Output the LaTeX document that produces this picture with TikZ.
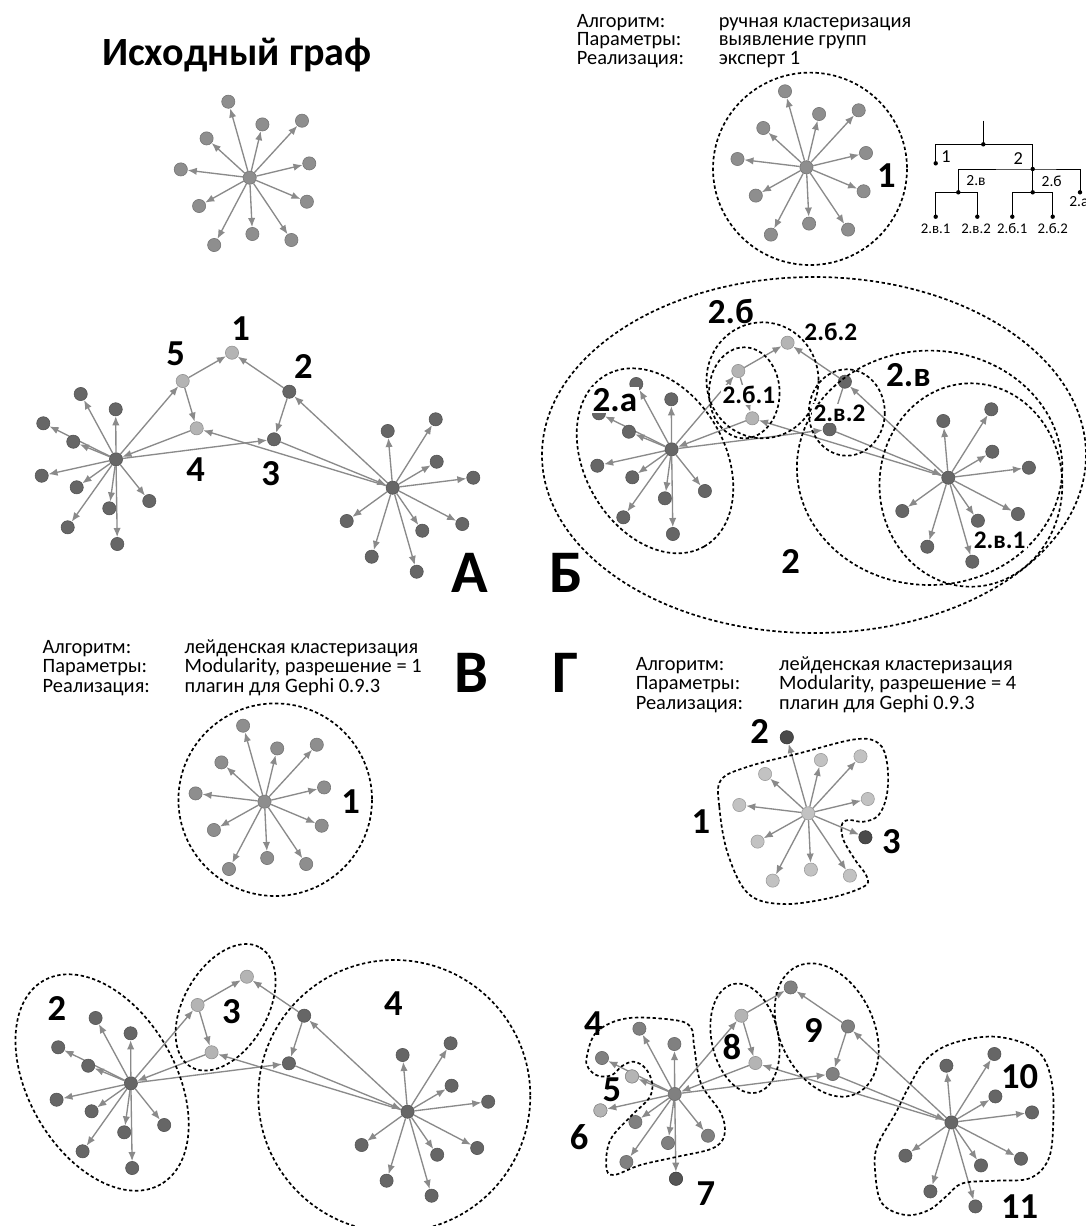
\documentclass[tikz,border=0pt]{standalone}
\usepackage{fontspec}
\setmainfont{Carlito}
\usetikzlibrary{arrows.meta}

\definecolor{edgegray}{HTML}{8A8A8A}
\definecolor{midstar}{HTML}{8E8E8E}
\definecolor{ltstar}{HTML}{C2C2C2}
\definecolor{dkstar}{HTML}{4A4A4A}
\definecolor{dkdot}{HTML}{666666}
\definecolor{mddot}{HTML}{808080}
\definecolor{ltdot}{HTML}{B4B4B4}
\definecolor{dkrdot}{HTML}{555555}

\tikzset{
  dot/.style={circle, inner sep=0pt, minimum size=0.33cm, fill=#1, draw=#1!80!black, line width=0.4pt},
  edge/.style={draw=edgegray, line width=0.95pt, -{Latex[length=6.5pt,width=5.2pt]}},
  hull/.style={draw=black, line width=1.2pt, dash pattern=on 2.4pt off 1.8pt},
  num/.style={font=\bfseries\fontsize{26}{26}\selectfont, inner sep=0pt},
  panel/.style={font=\bfseries\fontsize{43}{43}\selectfont, inner sep=0pt},
  sublbl/.style={font=\bfseries\fontsize{18}{18}\selectfont, inner sep=1pt},
  info/.style={font=\fontsize{14.5}{12.9}\selectfont, inner sep=0pt, anchor=base west},
  tdot/.style={circle, fill=black, inner sep=0pt, minimum size=0.11cm},
  tlbl/.style={font=\fontsize{#1}{#1}\selectfont, inner sep=0pt},
}

% star: prefix, x, y, colour
\newcommand{\stargraph}[4]{%
  \node[dot=#4] (#1c) at (#2,#3) {};
  \foreach \dx/\dy [count=\i] in {-21.4/-76, 12.7/-53.3, 52.3/-57, -43.1/-39.3,
      59.6/-14.3, -68.9/-8.3, -50.6/28.3, 57.2/24, -35.5/67.3, 2.7/56.3, 41.7/62.3}{
    \node[dot=#4] (#1\i) at ({#2+\dx},{#3+\dy}) {};
    \draw[edge] (#1c) -- (#1\i);
  }
}

% two hubs: prefix, x, y, left colour, colour of n1, colour of n2 and n3
\newcommand{\twohub}[6]{%
  \node[dot=#4] (#1a) at (#2,#3) {};
  \node[dot=dkdot] (#1b) at ({#2+276.7},{#3+28.4}) {};
  \node[dot=#5] (#1n1) at ({#2+116},{#3-106.6}) {};
  \node[dot=ltdot] (#1n5) at ({#2+66.7},{#3-78.3}) {};
  \node[dot=#6] (#1n2) at ({#2+173.3},{#3-67.6}) {};
  \node[dot=ltdot] (#1n4) at ({#2+80.7},{#3-31}) {};
  \node[dot=#6] (#1n3) at ({#2+158},{#3-20}) {};
  \foreach \dx/\dy [count=\i] in {-35.3/-65.3, -0.3/-50, -72.7/-36, -42.7/-17.6,
      -74.3/16.4, -39.3/28, 33.3/41.7, -6.7/49, -48.3/68, 1.3/84.7}{
    \node[dot=#4] (#1l\i) at ({#2+\dx},{#3+\dy}) {};
    \draw[edge] (#1a) -- (#1l\i);
  }
  \foreach \dx/\dy [count=\i] in {-5/-56.7, 43/-68.4, 44/-26, 80.6/-10,
      -46/33.3, 29.6/43, 69.6/36.3, -21/69, 24/84}{
    \node[dot=dkdot] (#1r\i) at ({#2+276.7+\dx},{#3+28.4+\dy}) {};
    \draw[edge] (#1b) -- (#1r\i);
  }
  \foreach \s/\t in {a/n5, n5/n1, n5/n4, n2/n1, n2/n3, b/n2, n4/a, a/n3, b/n4, n3/b}
    \draw[edge] (#1\s) -- (#1\t);
}

\begin{document}
\begin{tikzpicture}[x=0.025cm, y=-0.025cm]
  \path[fill=white, use as bounding box] (0,0) rectangle (1086,1226);

  % source graph
  \node[font=\bfseries\fontsize{28.5}{30}\selectfont, inner sep=0pt, anchor=base] (title) at (237,65) {Исходный граф};
  \stargraph{s}{249.7}{177.7}{midstar}

  % A
  \twohub{A}{116}{459.3}{dkdot}{ltdot}{dkdot}
  \node[num] (a1) at (240.7,328.3) {1};
  \node[num] (a5) at (175.7,353.3) {5};
  \node[num] (a2) at (303.3,366.7) {2};
  \node[num] (a4) at (195.7,470) {4};
  \node[num] (a3) at (270.7,474) {3};
  \node[panel] (pA) at (470,573) {А};

  % B: manual
  \node[info] (infoB) at (576.6,27.3) {\begin{tabular}[t]{@{}p{101pt}@{}l@{}}
    Алгоритм: & ручная кластеризация\\ Параметры: & выявление групп\\ Реализация: & эксперт 1\end{tabular}};
  \stargraph{b}{806.4}{167.3}{midstar}
  \draw[hull] (810,168.8) ellipse [x radius=97, y radius=96.2];
  \node[num] (b1) at (886.5,175.7) {1};

  % tree
  \coordinate (t0) at (983.3,120.7);
  \node[tdot] (t) at (983.3,144.3) {};
  \node[tdot] (t1) at (935.7,163.3) {};
  \node[tdot] (t2) at (1032.7,169) {};
  \node[tdot] (t2v) at (958.3,192.3) {};
  \node[tdot] (t2b) at (1032.7,192.3) {};
  \node[tdot] (t2a) at (1080,192.3) {};
  \node[tdot] (t2v1) at (935.7,216.7) {};
  \node[tdot] (t2v2) at (977.3,216.7) {};
  \node[tdot] (t2b1) at (1012.3,216.7) {};
  \node[tdot] (t2b2) at (1052.7,216.7) {};
  \draw[line width=0.6pt] (t0) -- (t.center);
  \draw[line width=0.6pt] (t1.center) |- (t.center) -| (t2.center);
  \draw[line width=0.6pt] (t2v.center) |- (t2.center) -| (t2a.center);
  \draw[line width=0.6pt] (t2.center) -- (t2b.center);
  \draw[line width=0.6pt] (t2v1.center) |- (t2v.center) -| (t2v2.center);
  \draw[line width=0.6pt] (t2b1.center) |- (t2b.center) -| (t2b2.center);
  \node[tlbl=13] (tl1) at (946,156.7) {1};
  \node[tlbl=13] (tl2) at (1018.3,158.3) {2};
  \node[tlbl=11] (tl2v) at (976,181) {2.в};
  \node[tlbl=11] (tl2b) at (1051.7,181) {2.б};
  \node[tlbl=11, anchor=west] (tl2a) at (1069,202) {2.а};
  \node[tlbl=10.5] (tl2v1) at (935.7,228.3) {2.в.1};
  \node[tlbl=10.5] (tl2v2) at (976,228.3) {2.в.2};
  \node[tlbl=10.5] (tl2b1) at (1012.3,228.3) {2.б.1};
  \node[tlbl=10.5] (tl2b2) at (1052.7,228.3) {2.б.2};

  % Б
  \twohub{B}{671.6}{449.3}{dkdot}{ltdot}{dkdot}
  \draw[hull] (814,455) ellipse [x radius=272, y radius=178];
  \draw[hull, rotate around={-60:(655,460.8)}] (655,460.8) ellipse [x radius=98.8, y radius=70.1];
  \draw[hull] (762.5,380.3) ellipse [x radius=56, y radius=58];
  \draw[hull] (744.3,392.8) ellipse [x radius=35.3, y radius=45.5];
  \draw[hull] (929.6,467.8) ellipse [x radius=132.7, y radius=117.2];
  \draw[hull] (970.9,485) ellipse [x radius=91.4, y radius=101.7];
  \draw[hull] (846.8,412.5) ellipse [x radius=38, y radius=43.2];
  \node[sublbl, fill=white] (l2a) at (614.9,400) {\fontsize{25}{25}\selectfont 2.а};
  \node[sublbl] (l2b) at (730.8,311.7) {\fontsize{25}{25}\selectfont 2.б};
  \node[sublbl] (l2b2) at (830.8,331.7) {2.б.2};
  \node[sublbl, fill=white] (l2b1) at (748.9,395) {2.б.1};
  \node[sublbl] (l2v) at (908.4,375) {\fontsize{25}{25}\selectfont 2.в};
  \node[sublbl, fill=white] (l2v2) at (839.5,413.3) {2.в.2};
  \node[sublbl, fill=white] (l2v1) at (999.6,540) {2.в.1};
  \node[num] (l2) at (790.7,561.7) {2};
  \node[panel] (pB) at (566,573) {Б};

  % В: leiden, resolution 1
  \node[info] (infoV) at (42.4,653.3) {\begin{tabular}[t]{@{}p{101pt}@{}l@{}}
    Алгоритм: & лейденская кластеризация\\ Параметры: & Modularity, разрешение = 1\\ Реализация: & плагин для Gephi 0.9.3\end{tabular}};
  \node[panel] (pV) at (471.5,672.5) {В};
  \stargraph{v}{264.5}{801.7}{midstar}
  \draw[hull] (275.2,799.7) ellipse [x radius=96.8, y radius=96.3];
  \node[num] (v1) at (350.6,801.7) {1};
  \twohub{V}{130.9}{1083.3}{dkdot}{ltdot}{dkdot}
  \draw[hull, rotate around={-60:(102.1,1082.5)}] (102.1,1082.5) ellipse [x radius=117.5, y radius=73.5];
  \draw[hull, rotate around={60:(225.6,1007.3)}] (225.6,1007.3) ellipse [x radius=69, y radius=41.8];
  \draw[hull] (394.3,1096) circle [radius=136];
  \node[num] (v2) at (56.8,1008.3) {2};
  \node[num] (v3) at (231.4,1011.7) {3};
  \node[num] (v4) at (393.3,1003.3) {4};

  % Г: leiden, resolution 4
  \node[panel] (pG) at (566,672.5) {Г};
  \node[info] (infoG) at (635.5,670) {\begin{tabular}[t]{@{}p{102pt}@{}l@{}}
    Алгоритм: & лейденская кластеризация\\ Параметры: & Modularity, разрешение = 4\\ Реализация: & плагин для Gephi 0.9.3\end{tabular}};
  \stargraph{d}{808.2}{813.3}{ltstar}
  \node[dot=dkstar] (dtwo) at (d1) {};
  \node[dot=dkstar] (dthree) at (d8) {};
  \draw[hull] plot[smooth cycle, tension=0.6] coordinates {(721.0,780) (719.3,806.7) (727.7,853.3)
    (747.9,893.3) (781.4,904) (828.4,898.3) (863.6,886.7) (866.9,876.7) (855.2,860)
    (843.5,840) (841.8,825) (848.5,820) (863.6,821.7) (878.7,815) (887.1,793.3)
    (887.1,763.3) (878.7,743.3) (855.2,739.3) (801.5,752.7) (747.9,766.7)};
  \node[num] (g2) at (759.6,731.7) {2};
  \node[num] (g3) at (891.4,841.7) {3};
  \node[num] (g1) at (700.9,821.7) {1};

  \twohub{G}{674.7}{1094}{mddot}{mddot}{mddot}
  \node[dot=ltdot] (gfive) at (Gl4) {};
  \node[dot=ltdot] (gsix) at (Gl5) {};
  \node[dot=dkrdot] (gseven) at (Gl10) {};
  \draw[hull] plot[smooth cycle, tension=0.6] coordinates {(586.8,1056.7) (596.9,1031.7) (627.1,1018.3)
    (674.1,1020) (690.8,1027.3) (694.2,1046.7) (700.9,1083.3) (721,1113.3) (724.4,1135)
    (712.6,1148.3) (677.4,1156.7) (640.5,1165) (613.7,1175) (606.3,1166.7) (610.3,1140)
    (630.4,1116.7) (648.9,1098.3) (652.2,1083.3) (645.5,1068.3) (633.8,1061.7) (622.1,1066)
    (612,1075) (598.6,1076) (588.5,1068.3)};
  \draw[hull, rotate around={12:(745,1038.3)}] (745,1038.3) ellipse [x radius=33.4, y radius=55.5];
  \draw[hull, rotate around={25:(826.7,1030)}] (826.7,1030) ellipse [x radius=47.1, y radius=70.2];
  \draw[hull] plot[smooth cycle, tension=0.6] coordinates {(875.3,1173.3) (877,1146.7) (895.5,1113.3)
    (908.9,1086.7) (925.7,1060) (952.5,1043.3) (996.1,1036.7) (1036.3,1050) (1051.4,1080)
    (1053.1,1126.7) (1048.1,1160) (1029.6,1178.3) (996.1,1180.7) (962.6,1183.3) (945.8,1196.7)
    (929,1210) (905.5,1215) (882,1203.3)};
  \node[num] (g4) at (593.5,1023.3) {4};
  \node[num] (g5) at (612,1090) {5};
  \node[num] (g6) at (579.1,1136.7) {6};
  \node[num] (g7) at (705.9,1193.3) {7};
  \node[num] (g8) at (731.8,1046.7) {8};
  \node[num] (g9) at (813.3,1030) {9};
  \node[num] (g10) at (1019.6,1076.7) {10};
  \node[num] (g11) at (1019.6,1207) {11};
\end{tikzpicture}
\end{document}
